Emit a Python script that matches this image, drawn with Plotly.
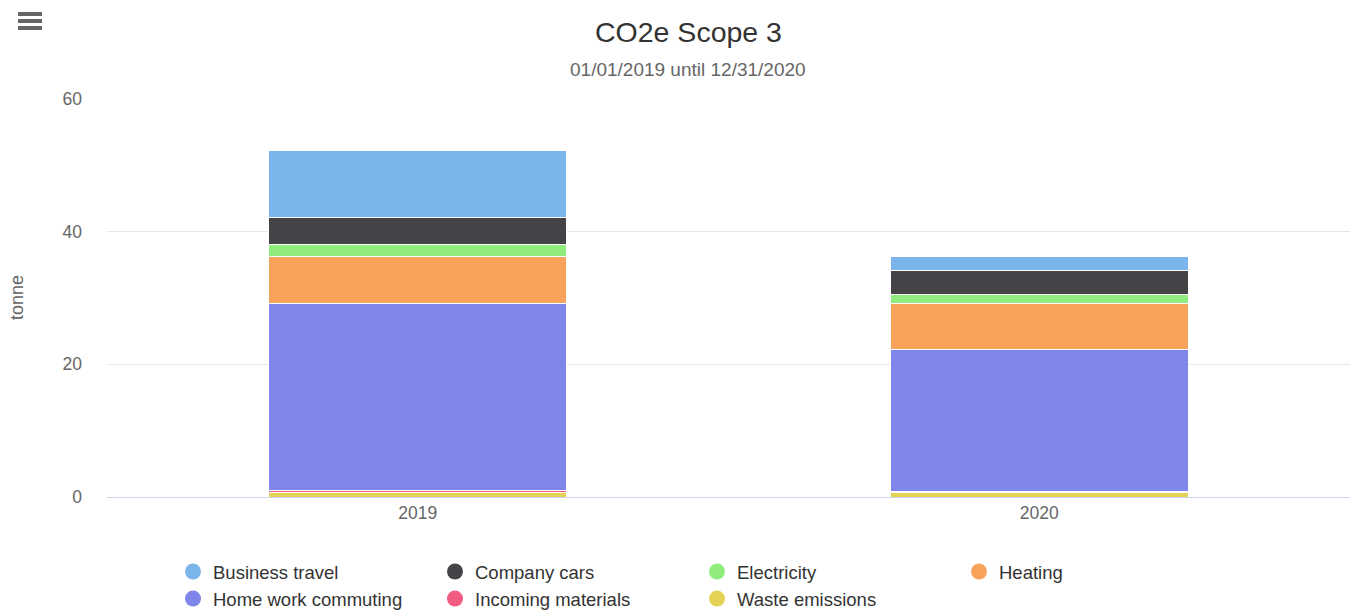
import plotly.graph_objects as go

years = ["2019", "2020"]
categories = ["Business travel", "Company cars", "Electricity", "Heating",
              "Home work commuting", "Incoming materials", "Waste emissions"]
colors = ["#7cb5ec", "#434348", "#90ed7d", "#f7a35c", "#8085e9", "#f15c80", "#e4d354"]
business_travel = [10.1, 2.1]
company_cars = [4.1, 3.5]
electricity = [1.8, 1.5]
heating = [7.1, 6.9]
home_work_commuting = [28.2, 21.4]
incoming_materials = [0.35, 0.05]
waste_emissions = [0.65, 0.75]

series = [business_travel, company_cars, electricity, heating,
          home_work_commuting, incoming_materials, waste_emissions]

FONT = "Liberation Sans, Arial, Helvetica, sans-serif"

fig = go.Figure()
# stacked bars: bottom first
for name, vals, col in reversed(list(zip(categories, series, colors))):
    fig.add_trace(go.Bar(x=years, y=vals, name=name, marker_color=col,
                         marker_line_color="white", marker_line_width=1,
                         showlegend=False))
# legend entries with circle markers
for name, col in zip(categories, colors):
    fig.add_trace(go.Scatter(x=[None], y=[None], mode="markers", name=name,
                             marker=dict(color=col, size=18, symbol="circle"),
                             showlegend=True))

W, H = 1355, 610
L, R, T, B = 107, 5, 99, 113
pw, ph = W - L - R, H - T - B

def px_x(x):
    return (x - L) / pw

def px_y(y):
    return (H - B - y) / ph

fig.update_layout(
    width=W, height=H,
    margin=dict(l=L, r=R, t=T, b=B, autoexpand=False),
    barmode="stack",
    bargap=0.52,
    plot_bgcolor="white", paper_bgcolor="white",
    font=dict(family=FONT, color="#666666", size=17),
    xaxis=dict(type="category", showgrid=False, showline=True, linecolor="#ccd6eb",
               linewidth=1, ticks="", tickfont=dict(size=17.5, color="#666666"),
               fixedrange=True),
    yaxis=dict(range=[0, 60], tickvals=[0, 20, 40, 60], showgrid=True,
               gridcolor="#e6e6e6", zeroline=False, showline=False,
               tickfont=dict(size=17.5, color="#666666"), ticklabelstandoff=24,
               fixedrange=True),
    legend=dict(orientation="h", x=px_x(173), y=px_y(553), xanchor="left", yanchor="top",
                entrywidth=217, entrywidthmode="pixels", tracegroupgap=0,
                font=dict(size=18.5, color="#333333", family=FONT),
                traceorder="normal", itemclick=False),
    annotations=[
        dict(text="CO2e Scope 3", x=px_x(688), y=px_y(32), xref="paper", yref="paper",
             xanchor="center", yanchor="middle", showarrow=False,
             font=dict(size=28.5, color="#333333", family=FONT)),
        dict(text="01/01/2019 until 12/31/2020", x=px_x(688), y=px_y(69), xref="paper", yref="paper",
             xanchor="center", yanchor="middle", showarrow=False,
             font=dict(size=19, color="#666666", family=FONT)),
        dict(text="tonne", x=px_x(17), y=px_y(298), xref="paper", yref="paper",
             xanchor="center", yanchor="middle", showarrow=False, textangle=-90,
             font=dict(size=18, color="#666666", family=FONT)),
    ],
    shapes=[
        dict(type="line", xref="paper", yref="paper",
             x0=px_x(18), x1=px_x(42), y0=px_y(yy), y1=px_y(yy),
             line=dict(color="#666666", width=4))
        for yy in (14, 21, 28)
    ],
)

fig.write_html("out.html", config={"displayModeBar": False})
